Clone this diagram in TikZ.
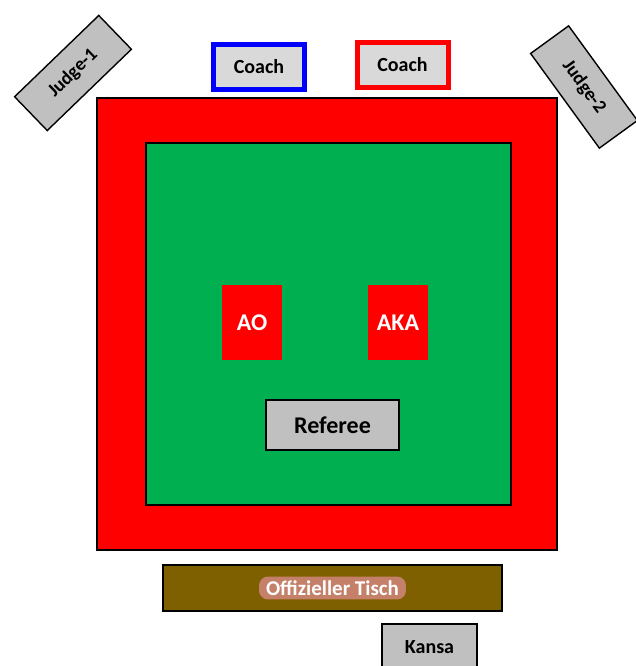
\documentclass[tikz,border=0pt]{standalone}
\usepackage{fontspec}
\setmainfont{Carlito}
\usetikzlibrary{positioning}
\definecolor{matred}{RGB}{255,0,0}
\definecolor{matgreen}{RGB}{0,176,80}
\definecolor{boxgray}{RGB}{192,192,192}
\definecolor{coachgray}{RGB}{217,217,217}
\definecolor{tablebrown}{RGB}{127,96,0}
\definecolor{tablepink}{RGB}{196,128,104}

\begin{document}
\begin{tikzpicture}[x=1pt,y=-1pt,
  matbox/.style={draw=black,line width=1.2pt,inner sep=0pt},
  fighter/.style={fill=matred,inner sep=0pt,minimum width=60pt,minimum height=75pt,
    text=white,font=\bfseries\fontsize{24}{24}\selectfont},
  graybox/.style={draw=black,line width=1.8pt,fill=boxgray,inner sep=0pt,
    font=\bfseries\fontsize{21}{21}\selectfont},
  coachbox/.style={line width=5pt,fill=coachgray,inner sep=0pt,minimum width=91pt,
    minimum height=45pt,font=\bfseries\fontsize{20}{20}\selectfont},
  judgebox/.style={draw=black,line width=1.4pt,fill=boxgray,inner sep=0pt,
    minimum width=117pt,minimum height=47pt,font=\bfseries\fontsize{19}{19}\selectfont}
]
\useasboundingbox (0,0) rectangle (636,666);
\clip (0,0) rectangle (636,666);

% the mat
\node[matbox,fill=matred,minimum width=460pt,minimum height=452pt] (mat) at (327,324) {};
\node[matbox,fill=matgreen,minimum width=365pt,minimum height=362pt] (area) at (328.5,324) {};

% the fighters and the referee
\node[fighter] (ao) at (252,322.5) {AO};
\node[fighter] (aka) at (398,322.5) {AKA};
\node[graybox,minimum width=133pt,minimum height=50pt,
  font=\bfseries\fontsize{24}{24}\selectfont] (referee) at (332.5,425) {Referee};

% the coaches
\node[coachbox,draw=blue] (coachao) at (259,67) {Coach};
\node[coachbox,draw=matred] (coachaka) at (402.5,65) {Coach};

% the judges
\node[judgebox,rotate=44] (judgeA) at (73,73) {Judge-1};
\node[judgebox,rotate=-54] (judgeB) at (584,87) {Judge-2};

% the officials
\node[draw=black,line width=1.4pt,fill=tablebrown,inner sep=0pt,
  minimum width=339pt,minimum height=46pt] (table) at (332.5,588) {};
\node[fill=tablepink,rounded corners=9pt,inner xsep=7pt,inner ysep=4pt,text=white,
  font=\bfseries\fontsize{21}{21}\selectfont] (tablename) at (table) {Offizieller Tisch};
\node[graybox,minimum width=95pt,minimum height=62pt] (kansa) at (429.5,655) {};
\node[font=\bfseries\fontsize{20}{20}\selectfont] (kansaname) at (429.5,647) {Kansa};
\end{tikzpicture}
\end{document}
